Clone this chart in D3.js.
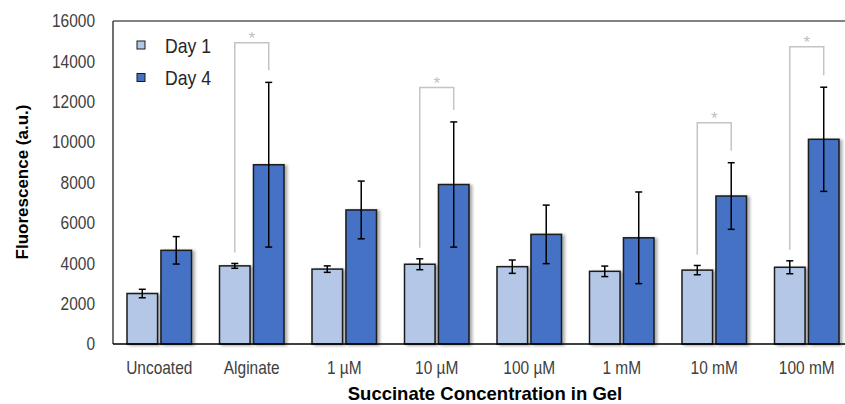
<!DOCTYPE html>
<html>
<head>
<meta charset="utf-8">
<script src="https://cdn.jsdelivr.net/npm/d3@7"></script>
<style>
    body { margin: 0; background: #fff; }
    svg { font-family: "Liberation Sans", Arial, sans-serif; }
</style>
</head>
<body>
<svg id="chart" width="845" height="404"></svg>
<script>
var categories = ["Uncoated", "Alginate", "1 µM", "10 µM", "100 µM", "1 mM", "10 mM", "100 mM"]
var seriesNames = ["Day 1", "Day 4"]
var day1 = [2500, 3870, 3710, 3950, 3830, 3600, 3660, 3800]
var day1Err = [210, 120, 160, 270, 330, 260, 230, 320]
var day4 = [4640, 8880, 6640, 7900, 5430, 5260, 7330, 10140]
var day4Err = [680, 4080, 1430, 3100, 1450, 2270, 1650, 2580]
var yTicks = [0, 2000, 4000, 6000, 8000, 10000, 12000, 14000, 16000]
// significance brackets: category index and level of the bracket top
var sigGroups = [1, 3, 6, 7]
var sigLevels = [14920, 12700, 10960, 14730]

var width = 845
var height = 404
var margin = { top: 21, right: -8, bottom: 60, left: 113 }
var colors = ["#b4c7e7", "#4472c4"]
var squeeze = 0.86   // the original labels use a narrow face

var svg = d3.select("#chart")

function drawChart() {
    var innerW = width - margin.left - margin.right
    var innerH = height - margin.top - margin.bottom

    var xScale = d3.scaleBand()
        .domain(categories)
        .range([margin.left, margin.left + innerW])
        .paddingInner(0)
        .paddingOuter(0)

    var subScale = d3.scaleBand()
        .domain(seriesNames)
        .range([14, xScale.bandwidth() - 14])
        .paddingInner(0.1)

    var yScale = d3.scaleLinear()
        .domain([0, 16000])
        .range([margin.top + innerH, margin.top])

    var defs = svg.append("defs")
    var shadow = defs.append("filter")
        .attr("id", "shadow")
        .attr("x", "-20%").attr("y", "-20%")
        .attr("width", "160%").attr("height", "140%")
    shadow.append("feDropShadow")
        .attr("dx", 2.5).attr("dy", 1)
        .attr("stdDeviation", 1.8)
        .attr("flood-color", "#000")
        .attr("flood-opacity", 0.35)

    // frame: top and left
    svg.append("line")
        .attr("x1", margin.left).attr("x2", width)
        .attr("y1", margin.top).attr("y2", margin.top)
        .attr("stroke", "#595959").attr("stroke-width", 1.5)
    svg.append("line")
        .attr("x1", margin.left).attr("x2", margin.left)
        .attr("y1", margin.top).attr("y2", yScale(0))
        .attr("stroke", "#404040").attr("stroke-width", 1.5)

    // y axis labels
    var yAxis = d3.axisLeft(yScale).tickValues(yTicks).tickSize(0).tickPadding(18).tickFormat(d3.format("d"))
    var yG = svg.append("g")
        .attr("class", "yAxis")
        .attr("transform", "translate(" + margin.left + ",0)")
        .call(yAxis)
    yG.attr("font-family", null)
    yG.select(".domain").remove()
    yG.selectAll(".tick text")
        .attr("x", null)
        .attr("transform", "translate(-18,0) scale(" + squeeze + ",1)")
        .attr("font-size", 18)
        .attr("fill", "#404040")

    // bars
    var rows = []
    categories.forEach(function (c, i) {
        rows.push({ cat: c, s: "Day 1", v: day1[i], e: day1Err[i], k: 0 })
        rows.push({ cat: c, s: "Day 4", v: day4[i], e: day4Err[i], k: 1 })
    })

    svg.append("g")
        .selectAll("rect")
        .data(rows)
        .enter()
        .append("rect")
        .attr("x", function (d) { return xScale(d.cat) + subScale(d.s) })
        .attr("y", function (d) { return yScale(d.v) })
        .attr("width", subScale.bandwidth())
        .attr("height", function (d) { return yScale(0) - yScale(d.v) })
        .attr("fill", function (d) { return colors[d.k] })
        .attr("stroke", "#1a1a1a")
        .attr("stroke-width", 1.5)
        .attr("filter", "url(#shadow)")

    // error bars
    var eg = svg.append("g").attr("stroke", "#000").attr("stroke-width", 1.5)
    rows.forEach(function (d) {
        var cx = xScale(d.cat) + subScale(d.s) + subScale.bandwidth() / 2
        eg.append("line")
            .attr("x1", cx).attr("x2", cx)
            .attr("y1", yScale(d.v + d.e)).attr("y2", yScale(d.v - d.e))
        eg.append("line")
            .attr("x1", cx - 3.5).attr("x2", cx + 3.5)
            .attr("y1", yScale(d.v + d.e)).attr("y2", yScale(d.v + d.e))
        eg.append("line")
            .attr("x1", cx - 3.5).attr("x2", cx + 3.5)
            .attr("y1", yScale(d.v - d.e)).attr("y2", yScale(d.v - d.e))
    })

    // x axis
    svg.append("line")
        .attr("x1", margin.left).attr("x2", width)
        .attr("y1", yScale(0)).attr("y2", yScale(0))
        .attr("stroke", "#000").attr("stroke-width", 1.5)

    svg.append("g")
        .selectAll("text")
        .data(categories)
        .enter()
        .append("text")
        .attr("transform", function (d) {
            return "translate(" + (xScale(d) + xScale.bandwidth() / 2) + "," + (yScale(0) + 30) + ") scale(" + squeeze + ",1)"
        })
        .attr("text-anchor", "middle")
        .attr("font-size", 18)
        .attr("fill", "#404040")
        .text(function (d) { return d })

    // significance brackets
    var bg = svg.append("g")
    sigGroups.forEach(function (gi, j) {
        var cat = categories[gi]
        var x1 = xScale(cat) + subScale("Day 1") + subScale.bandwidth() / 2
        var x2 = xScale(cat) + subScale("Day 4") + subScale.bandwidth() / 2
        var top = yScale(sigLevels[j])
        var y1 = yScale(day1[gi] + day1Err[gi]) - 11
        var y2 = yScale(day4[gi] + day4Err[gi]) - 12
        bg.append("path")
            .attr("d", "M" + x1 + "," + y1 + "V" + top + "H" + x2 + "V" + y2)
            .attr("fill", "none")
            .attr("stroke", "#c4c4c4")
            .attr("stroke-width", 1.5)
        bg.append("text")
            .attr("x", (x1 + x2) / 2)
            .attr("y", top + 1)
            .attr("text-anchor", "middle")
            .attr("font-size", 17)
            .attr("fill", "#bfbfbf")
            .text("*")
    })

    // legend
    var lg = svg.append("g")
    seriesNames.forEach(function (s, i) {
        var ly = 45 + i * 32.5
        lg.append("rect")
            .attr("x", 137).attr("y", ly - 4)
            .attr("width", 8).attr("height", 8)
            .attr("fill", colors[i])
            .attr("stroke", "#1a1a1a")
            .attr("stroke-width", 1)
        lg.append("text")
            .attr("transform", "translate(165," + (ly + 7.5) + ") scale(" + squeeze + ",1)")
            .attr("font-size", 20.5)
            .attr("fill", "#262626")
            .text(s)
    })

    // axis titles
    svg.append("text")
        .attr("transform", "rotate(-90)")
        .attr("x", -182)
        .attr("y", 28)
        .attr("text-anchor", "middle")
        .attr("font-size", 17)
        .attr("font-weight", "bold")
        .attr("fill", "#000")
        .text("Fluorescence (a.u.)")

    svg.append("text")
        .attr("x", 485)
        .attr("y", 400)
        .attr("text-anchor", "middle")
        .attr("font-size", 18.5)
        .attr("font-weight", "bold")
        .attr("fill", "#000")
        .text("Succinate Concentration in Gel")
}

drawChart()
</script>
</body>
</html>
